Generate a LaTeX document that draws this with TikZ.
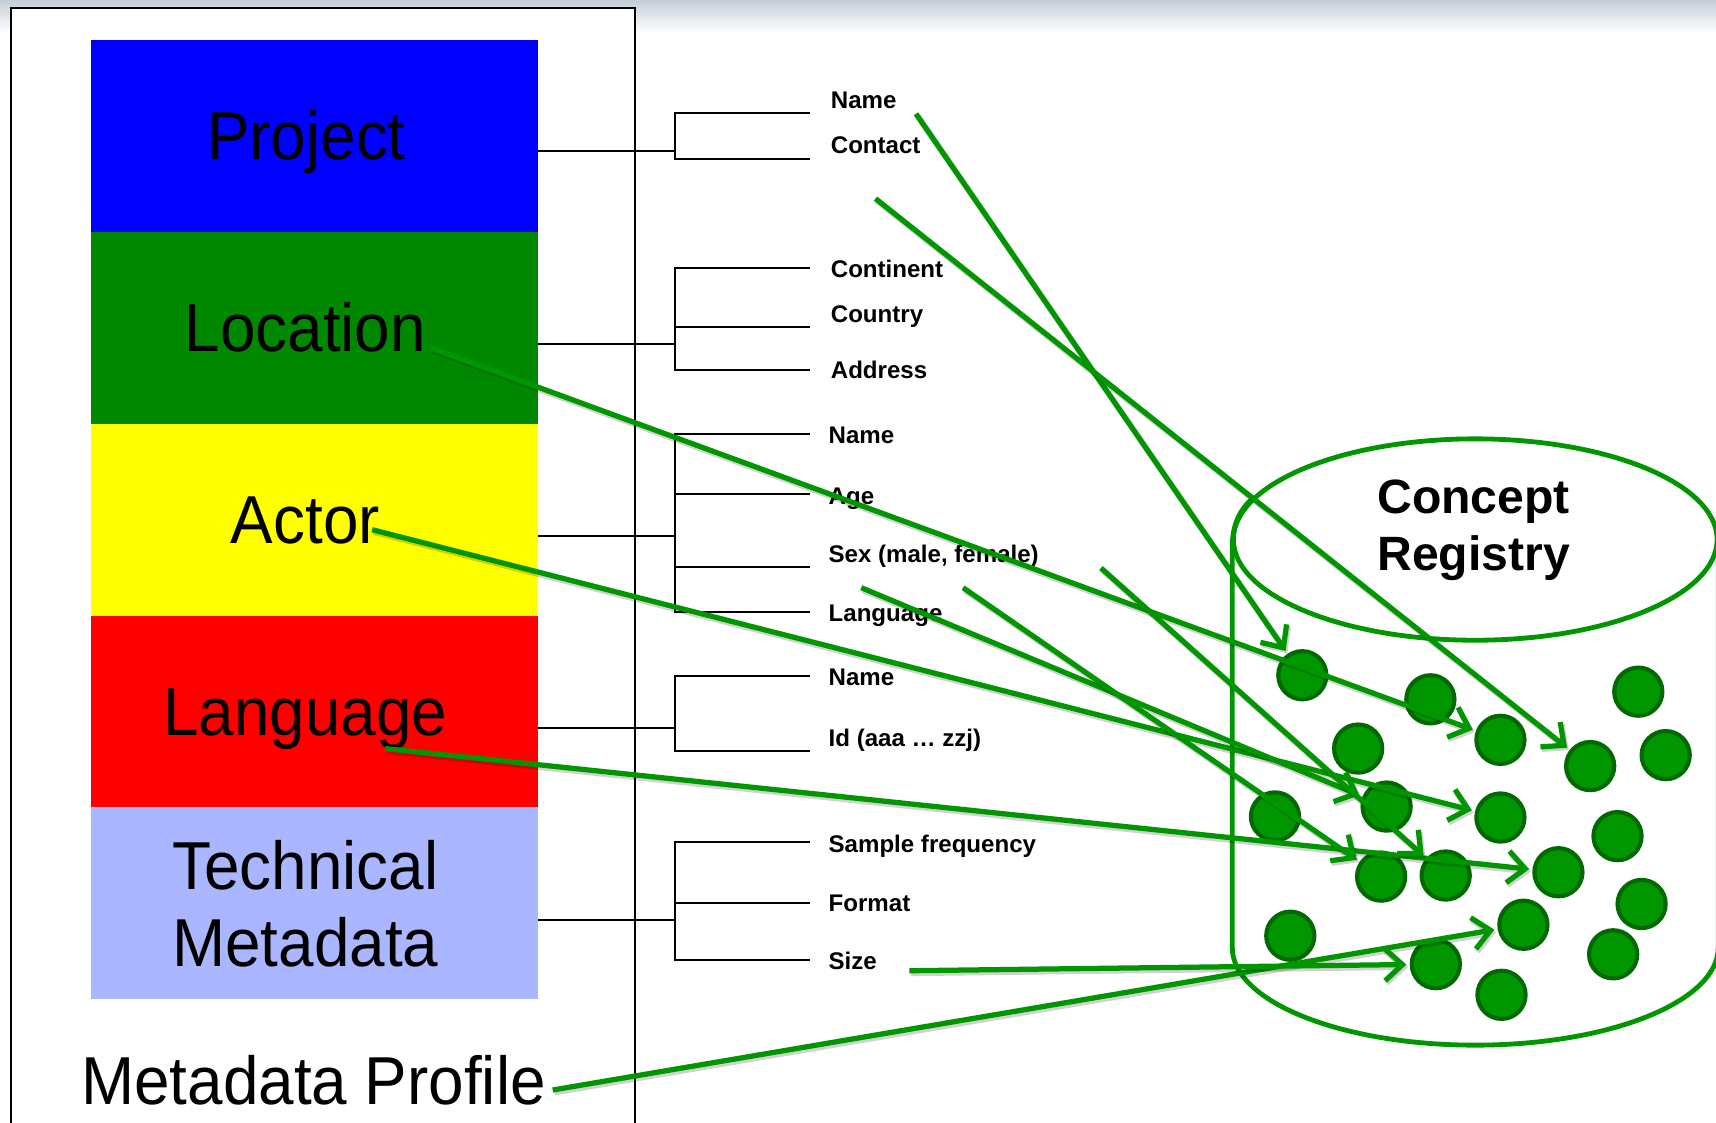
\documentclass[tikz,border=0pt]{standalone}
\usepackage{fontspec}
\setmainfont{Liberation Sans}
\newfontfamily\bigfont[FakeStretch=0.94]{Liberation Sans}
\usetikzlibrary{arrows.meta,shapes.geometric}
\definecolor{cblue}{RGB}{0,0,255}
\definecolor{cgreen}{RGB}{0,136,0}
\definecolor{cyellow}{RGB}{255,255,0}
\definecolor{cred}{RGB}{255,0,0}
\definecolor{clblue}{RGB}{170,182,255}
\definecolor{linkgreen}{RGB}{0,150,0}
\definecolor{dotfill}{RGB}{0,150,0}
\definecolor{dotline}{RGB}{0,105,0}
\definecolor{topgray}{RGB}{196,206,217}
\begin{document}
\begin{tikzpicture}[x=1pt,y=-1pt,
  box/.style={draw=none,minimum width=409pt,minimum height=175.2pt,inner sep=0pt,outer sep=0pt},
  bigtext/.style={font=\bigfont\fontsize{62}{70}\selectfont,anchor=base,inner sep=0pt},
  leaf/.style={font=\bfseries\fontsize{22}{26}\selectfont,anchor=base west,inner sep=0pt},
  tree/.style={line width=1.9pt,draw=black},
  dot/.style={circle,fill=dotfill,draw=dotline,line width=3.8pt,minimum size=44pt,inner sep=0pt},
  link/.style={draw=linkgreen,line width=4.8pt,-{Straight Barb[length=16pt,width=29pt]},shorten >=3pt,
    preaction={draw=black,opacity=0.18,line width=5.5pt,transform canvas={shift={(1.6pt,-2.2pt)}}}},
  reg/.style={draw=linkgreen,line width=4.4pt},
  regtext/.style={font=\bfseries\fontsize{44}{52}\selectfont,anchor=base,inner sep=0pt},
]
\useasboundingbox (0,0) rectangle (1568,1026);
% background strip
\shade[top color=topgray,bottom color=white] (0,0) rectangle (1568,30);
% outer frame
\draw[line width=1.6pt,fill=white] (10,7) rectangle (580,1040);
% coloured boxes
\node[box,fill=cblue]   (project)  at (287.5,124.6) {};
\node[box,fill=cgreen]  (location) at (287.5,299.8) {};
\node[box,fill=cyellow] (actor)    at (287.5,475.0) {};
\node[box,fill=cred]    (language) at (287.5,650.2) {};
\node[box,fill=clblue]  (technical) at (287.5,825.4) {};
% box labels
\node[bigtext] (projectlabel)  at (280,146) {Project};
\node[bigtext] (locationlabel) at (279,321) {Location};
\node[bigtext] (actorlabel)    at (279,497) {Actor};
\node[bigtext] (languagelabel) at (279,672) {Language};
\node[bigtext] (techlabela)    at (279,813) {Technical};
\node[bigtext] (techlabelb)    at (279,883) {Metadata};
\node[bigtext] (profilelabel)  at (286.5,1009) {Metadata Profile};
% trees
\coordinate (pj) at (617,138.3);
\coordinate (lj) at (617,314);
\coordinate (aj) at (617,489.8);
\coordinate (gj) at (617,665.2);
\coordinate (tj) at (617,840.6);
\draw[tree] (project.east |- pj) -- (pj);
\draw[tree] (location.east |- lj) -- (lj);
\draw[tree] (actor.east |- aj) -- (aj);
\draw[tree] (language.east |- gj) -- (gj);
\draw[tree] (technical.east |- tj) -- (tj);
\draw[tree] (740,103.6) -| (617,145.3) -- (740,145.3);
\draw[tree] (740,244.6) -| (617,338) -- (740,338);
\draw[tree] (617,298.8) -- (740,298.8);
\draw[tree] (740,396.6) -| (617,559.2) -- (740,559.2);
\draw[tree] (617,451.7) -- (740,451.7);
\draw[tree] (617,518) -- (740,518);
\draw[tree] (740,617.7) -| (617,686) -- (740,686);
\draw[tree] (740,769.4) -| (617,877.2) -- (740,877.2);
\draw[tree] (617,824.8) -- (740,824.8);
% leaf labels
\node[leaf] (pname)    at (759,99)  {Name};
\node[leaf] (pcontact) at (759,140) {Contact};
\node[leaf] (lcont)    at (759,254) {Continent};
\node[leaf] (lcountry) at (759,295) {Country};
\node[leaf] (laddress) at (759,346) {Address};
\node[leaf] (aname)    at (757,405.5) {Name};
\node[leaf] (aage)     at (757,461) {Age};
\node[leaf] (asex)     at (757,514) {Sex (male, female)};
\node[leaf] (alang)    at (757,568) {Language};
\node[leaf] (gname)    at (757,626) {Name};
\node[leaf] (gid)      at (757,682) {Id (aaa … zzj)};
\node[leaf] (tsample)  at (757,779) {Sample frequency};
\node[leaf] (tformat)  at (757,833) {Format};
\node[leaf] (tsize)    at (757,886) {Size};
% concept registry cylinder
\node[reg,ellipse,minimum width=442pt,minimum height=184pt,inner sep=0pt] (regtop) at (1348,493) {};
\draw[reg] (1146,454) .. controls (1132,466) and (1126,480) .. (1126,500) -- (1126,866)
  arc[start angle=180,end angle=360,x radius=222pt,y radius=89pt] -- (1570,500);
\node[regtext] (concept)  at (1346.5,469) {Concept};
\node[regtext] (registry) at (1346.5,521) {Registry};
% concept dots
\node[dot] (c1)  at (1190,617) {};
\node[dot] (c2)  at (1307,639) {};
\node[dot] (c3)  at (1497,632) {};
\node[dot] (c4)  at (1241,684) {};
\node[dot] (c5)  at (1371,676) {};
\node[dot] (c6)  at (1453,700) {};
\node[dot] (c7)  at (1522,690) {};
\node[dot] (c8)  at (1165,746) {};
\node[dot] (c9)  at (1267,737) {};
\node[dot] (c10) at (1371,747) {};
\node[dot] (c11) at (1478,764) {};
\node[dot] (c12) at (1262,801) {};
\node[dot] (c13) at (1321,800) {};
\node[dot] (c14) at (1424,797) {};
\node[dot] (c15) at (1500,826) {};
\node[dot] (c16) at (1392,845) {};
\node[dot] (c17) at (1179,855) {};
\node[dot] (c18) at (1312,881) {};
\node[dot] (c19) at (1474,872) {};
\node[dot] (c20) at (1372,909) {};
% arrow starts
\coordinate (s1)  at (837,104);
\coordinate (s2)  at (800,181.5);
\coordinate (s3)  at (394,318);
\coordinate (s4)  at (340,484);
\coordinate (s5)  at (352,684);
\coordinate (s6)  at (505,996);
\coordinate (s7)  at (831,887);
\coordinate (s8)  at (787,537);
\coordinate (s9)  at (880,537);
\coordinate (s10) at (1006,519);
% arrows
\draw[link] (s1) -- (c1);
\draw[link] (s2) -- (c6);
\draw[link] (s3) -- (c5);
\draw[link] (s4) -- (c10);
\draw[link] (s5) -- (c14);
\draw[link] (s6) -- (c16);
\draw[link] (s7) -- (c18);
\draw[link] (s8) -- (c9);
\draw[link] (s9) -- (c12);
\draw[link] (s10) -- (c13);
\end{tikzpicture}
\end{document}
